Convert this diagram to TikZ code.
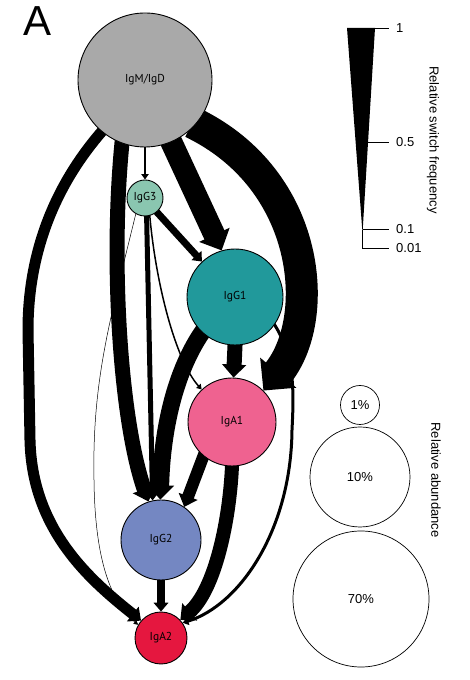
\documentclass[tikz,border=0pt]{standalone}
\usepackage{fontspec}
\setmainfont{Liberation Sans}
\newfontfamily\labelfont{PT Sans}
\usetikzlibrary{arrows.meta}
\pgfdeclarelayer{bg}
\pgfsetlayers{bg,main}
\definecolor{cIgM}{HTML}{A9A9A9}
\definecolor{cIgGthree}{HTML}{8AC6B0}
\definecolor{cIgGone}{HTML}{21999B}
\definecolor{cIgAone}{HTML}{EF6290}
\definecolor{cIgGtwo}{HTML}{7487C2}
\definecolor{cIgAtwo}{HTML}{E5173F}
\tikzset{
  iso/.style={circle, draw, line width=0.9pt, inner sep=0pt, minimum size=#1, font=\labelfont\fontsize{11.5}{12}\selectfont},
  key/.style={circle, draw, line width=0.7pt, inner sep=0pt, minimum size=#1, font=\fontsize{13}{14}\selectfont},
  flow/.style={line width=#1, -{Triangle[length=4pt 0.6, width=4pt 1.3]}, shorten <=-4pt},
  tick/.style={line width=0.8pt},
  ticklabel/.style={anchor=west, inner sep=0pt, font=\fontsize{13}{14}\selectfont}
}

\begin{document}
\begin{tikzpicture}[x=1pt, y=1pt]
  \useasboundingbox (0,0) rectangle (470,680);
  \node[font=\fontsize{42}{42}\selectfont] (panel) at (38,659) {A};
  % isotypes
  \node[iso=134pt, fill=cIgM] (igm) at (145,600) {IgM/IgD};
  \node[iso=36pt, fill=cIgGthree] (igg3) at (145,482) {IgG3};
  \node[iso=96pt, fill=cIgGone] (igg1) at (235,383) {IgG1};
  \node[iso=88pt, fill=cIgAone] (iga1) at (232,258) {IgA1};
  \node[iso=80pt, fill=cIgGtwo] (igg2) at (161,140) {IgG2};
  \node[iso=52pt, fill=cIgAtwo] (iga2) at (161,42) {IgA2};
  % switches
  \begin{pgfonlayer}{bg}
    \draw[flow=2.5pt] (igm.-90) -- (igg3.90);
    \draw[flow=22pt] (igm.-67) -- (igg1.106);
    \draw[flow=32pt] (igm.-41) .. controls (312,500) and (322,360) .. (iga1.45);
    \draw[flow=15pt] (igm.-110) .. controls (110,420) and (120,260) .. (igg2.108);
    \draw[flow=11pt] (igm.230) .. controls (50,490) and (28,420) .. (28,350) -- (30,240) .. controls (32,150) and (90,100) .. (iga2.139);
    \draw[flow=7pt] (igg3.-50) -- (igg1.133);
    \draw[flow=5pt] (igg3.-85) -- (igg2.102);
    \draw[flow=1.5pt] (igg3.-75) .. controls (155,400) and (175,320) .. (iga1.133);
    \draw[flow=0.5pt] (igg3.-120) .. controls (110,360) and (92,300) .. (94,200) .. controls (95,110) and (115,75) .. (iga2.150);
    \draw[flow=15pt] (igg1.-90) -- (iga1.88);
    \draw[flow=17pt] (igg1.-133) .. controls (175,310) and (162,250) .. (igg2.91);
    \draw[flow=3pt] (igg1.-35) .. controls (295,325) and (294,290) .. (292,250) .. controls (291,150) and (240,75) .. (iga2.35);
    \draw[flow=12pt] (iga1.-130) -- (igg2.55);
    \draw[flow=14pt] (iga1.-90) .. controls (230,160) and (215,90) .. (iga2.43);
    \draw[flow=8pt] (igg2.-90) -- (iga2.90);
  \end{pgfonlayer}
  % switch frequency scale
  \fill (347,652) -- (375,652) -- (362.5,447) -- cycle;
  \draw[tick] (375,652) -- (389,652);
  \draw[tick] (368,538) -- (389,538);
  \draw[tick] (362.5,451) -- (389,451);
  \draw[tick] (362.5,450) -- (362.5,432) -- (389,432);
  \node[ticklabel] (fone) at (396,652) {1};
  \node[ticklabel] (fhalf) at (396,538) {0.5};
  \node[ticklabel] (ftenth) at (396,451) {0.1};
  \node[ticklabel] (fhundredth) at (396,432) {0.01};
  \node[rotate=-90, font=\fontsize{13}{14}\selectfont] (freq) at (433,540) {Relative switch frequency};
  % abundance scale
  \node[key=39pt] (aone) at (360,275) {1\%};
  \node[key=100pt] (aten) at (360,203) {10\%};
  \node[key=136pt] (aseventy) at (361,81) {70\%};
  \node[rotate=-90, font=\fontsize{13}{14}\selectfont] (abund) at (436,200) {Relative abundance};
\end{tikzpicture}
\end{document}
